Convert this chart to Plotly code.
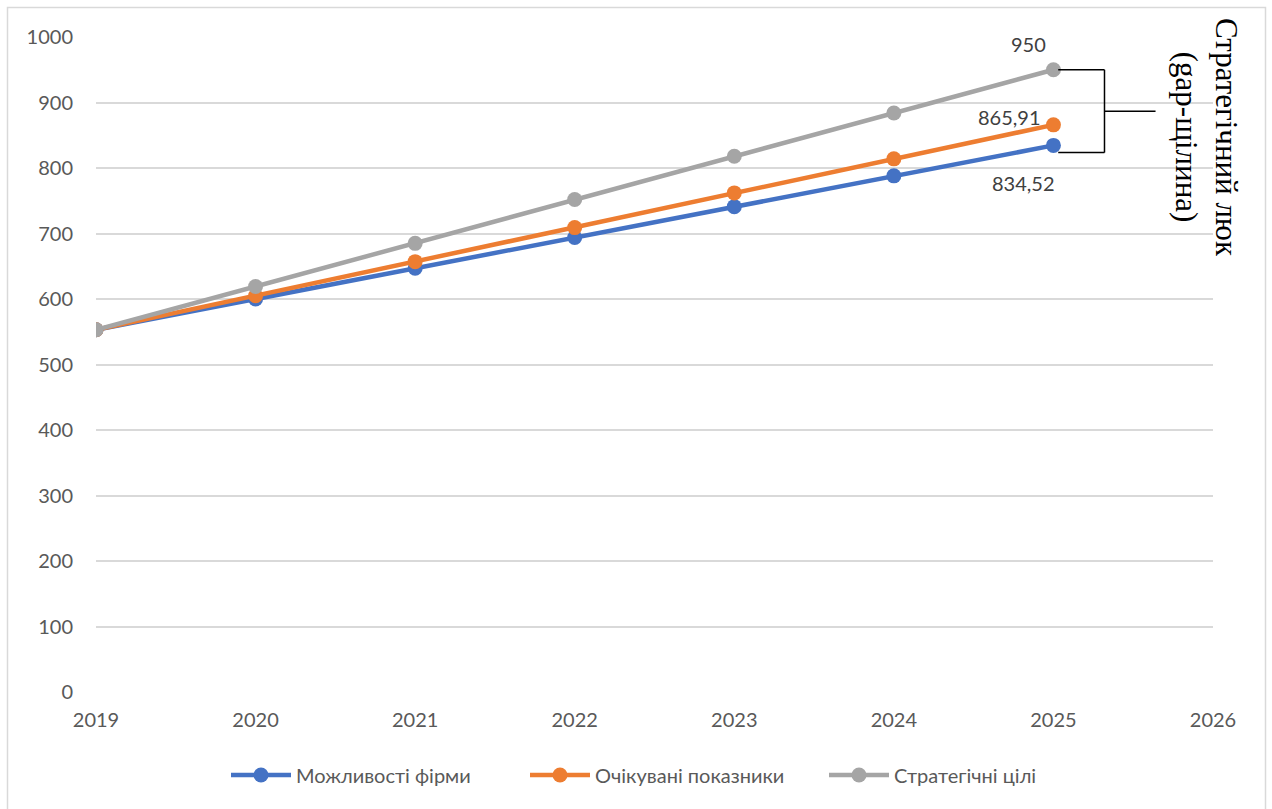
import plotly.graph_objects as go

years = [2019, 2020, 2021, 2022, 2023, 2024, 2025]
capabilities = [553, 600, 647, 694, 741, 788, 834.52]
expected = [553, 605, 657, 709, 762, 814, 865.91]
goals = [553, 619, 685, 752, 818, 884, 950]
series_names = ["Можливості фірми", "Очікувані показники", "Стратегічні цілі"]
colors = ["#4472C4", "#ED7D31", "#A5A5A5"]
end_labels = ["834,52", "865,91", "950"]
y_ticks = [0, 100, 200, 300, 400, 500, 600, 700, 800, 900, 1000]
x_ticks = [2019, 2020, 2021, 2022, 2023, 2024, 2025, 2026]

W, H = 1272, 809
L, R, T, B = 96, 1213, 37, 692

fig = go.Figure()
for name, vals, c in zip(series_names, [capabilities, expected, goals], colors):
    fig.add_trace(go.Scatter(
        x=years, y=vals, name=name, mode="lines+markers",
        line=dict(color=c, width=4.5),
        marker=dict(color=c, size=15),
    ))

font_main = "Lato, sans-serif"
FS = 20

def px_x(p):
    return (p - L) / (R - L)

def px_y(p):
    return (B - p) / (B - T)

shapes = [
    dict(type="rect", xref="paper", yref="paper",
         x0=px_x(7.5), x1=px_x(1265.5), y0=px_y(830), y1=px_y(7.5),
         line=dict(color="#d9d9d9", width=1.5), fillcolor="rgba(0,0,0,0)", layer="below"),
]
last_x = years[-1]
top_v = goals[-1]
bot_v = capabilities[-1] - 11
mid_v = (top_v + bot_v) / 2
bx0, bx1, bx2 = last_x + 0.03, last_x + 0.32, last_x + 0.64
blk = dict(color="black", width=1.5)
shapes += [
    dict(type="line", xref="x", yref="y", x0=bx0, x1=bx1, y0=top_v, y1=top_v, line=blk),
    dict(type="line", xref="x", yref="y", x0=bx0, x1=bx1, y0=bot_v, y1=bot_v, line=blk),
    dict(type="line", xref="x", yref="y", x0=bx1, x1=bx1, y0=top_v, y1=bot_v, line=blk),
    dict(type="line", xref="x", yref="y", x0=bx1, x1=bx2, y0=mid_v, y1=mid_v, line=blk),
]

lab_font = dict(size=FS, color="#404040", family=font_main)
annotations = [
    dict(x=last_x, y=goals[-1], text=end_labels[2], showarrow=False,
         xshift=-25, yshift=26, font=lab_font),
    dict(x=last_x, y=expected[-1], text=end_labels[1], showarrow=False,
         xshift=-44, yshift=8, font=lab_font),
    dict(x=last_x, y=capabilities[-1], text=end_labels[0], showarrow=False,
         xshift=-30, yshift=-38, font=lab_font),
    dict(xref="paper", yref="paper", x=px_x(1207), y=px_y(137),
         xanchor="center", yanchor="middle",
         text="Стратегічний люк<br>(gap-щілина)", textangle=90, showarrow=False,
         font=dict(size=31, color="black", family="'Liberation Serif', 'Times New Roman', serif")),
]

fig.update_layout(
    width=W, height=H,
    margin=dict(l=L, r=W - R, t=T, b=H - B, autoexpand=False),
    paper_bgcolor="white", plot_bgcolor="white",
    font=dict(family=font_main, size=FS, color="#595959"),
    showlegend=True,
    legend=dict(orientation="h", x=px_x(226), xanchor="left", y=px_y(775), yanchor="middle",
                font=dict(size=FS, color="#595959", family=font_main), itemwidth=60,
                tracegroupgap=0, entrywidth=224, entrywidthmode="pixels"),
    shapes=shapes,
    annotations=annotations,
    xaxis=dict(range=[2019, 2026], tickvals=x_ticks, showgrid=False, zeroline=False,
               showline=False, ticks="", ticklabelstandoff=14,
               tickfont=dict(size=FS, color="#595959")),
    yaxis=dict(range=[0, 1000], tickvals=y_ticks, showgrid=True, gridcolor="#d9d9d9",
               gridwidth=1.5, zeroline=False, showline=False, ticks="",
               ticklabelstandoff=22, tickfont=dict(size=FS, color="#595959")),
)

fig.write_html("out.html")
